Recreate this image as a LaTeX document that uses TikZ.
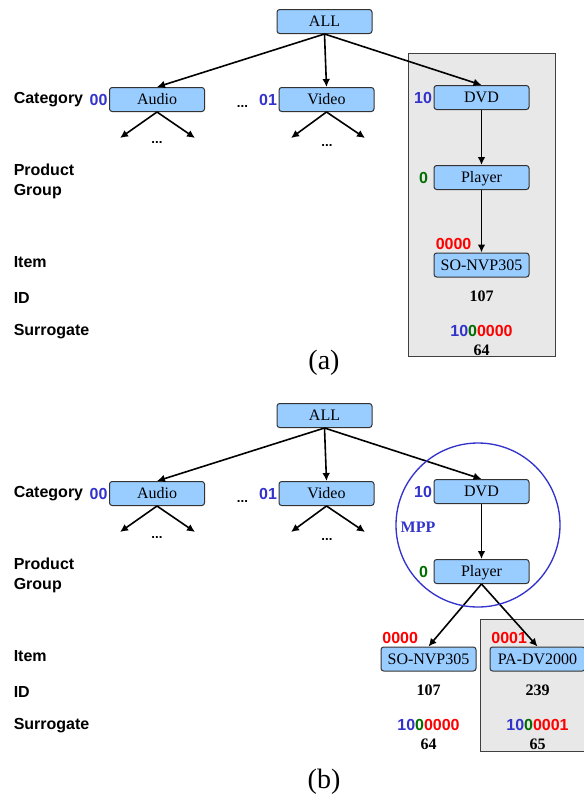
\documentclass[tikz,border=0pt]{standalone}
\usepackage{fontspec}
\setmainfont{Liberation Serif}
\setsansfont{Liberation Sans}
\usetikzlibrary{positioning, arrows.meta}
\definecolor{boxblue}{RGB}{153,204,255}
\definecolor{codeblue}{RGB}{51,51,204}
\definecolor{codegreen}{RGB}{0,110,0}
\definecolor{codered}{RGB}{255,0,0}
\tikzset{
  cat/.style={draw=black!80, fill=boxblue, line width=0.75pt, rounded corners=2pt, minimum width=71.25pt, minimum height=18pt, inner sep=0pt, text height=7.9pt, text depth=0pt, font=\fontsize{12}{14}\selectfont},
  lvl/.style={anchor=base west, inner sep=0pt, align=left, font=\sffamily\bfseries\fontsize{12}{15}\selectfont},
  code/.style={inner sep=0pt, font=\sffamily\bfseries\fontsize{12}{14}\selectfont},
  num/.style={inner sep=0pt, font=\bfseries\fontsize{12}{14}\selectfont},
  etc/.style={inner sep=0pt, font=\sffamily\bfseries\fontsize{10}{12}\selectfont},
  panel/.style={draw=black!75, fill=black!9, line width=0.75pt},
  caption/.style={inner sep=0pt, font=\fontsize{21}{24}\selectfont}
}

\begin{document}
\begin{tikzpicture}[x=0.75pt, y=-0.75pt, >={Latex[length=6pt,width=5.8pt]}, line width=1.2pt]
\useasboundingbox (0,0) rectangle (584,801);
\clip (0,0) rectangle (584,801);
\draw[panel] (408,53) rectangle (555,356);
\draw[panel] (480,619) rectangle (600,751);

\node[lvl] (cata) at (13,103.5) {Category};
\node[lvl, anchor=west] (groupa) at (13,181.5) {Product\\Group};
\node[lvl] (itema) at (13,267.5) {Item};
\node[lvl] (idlbla) at (13,303.5) {ID};
\node[lvl] (surlbla) at (13,335.5) {Surrogate};

\node[cat] (all) at (324.5,21.5) {ALL};
\node[cat] (audio) at (157,99.5) {Audio};
\node[cat] (video) at (326.5,99.5) {Video};
\node[cat] (dvd) at (481.5,97.5) {DVD};
\node[cat] (player) at (481.5,177.5) {Player};
\node[cat] (so) at (481.5,265) {SO-NVP305};
\node[code, text=codeblue, left=0.5pt of audio] (caudio) {00};
\node[code, text=codeblue, left=0.5pt of video] (cvideo) {01};
\node[code, text=codeblue, left=0.5pt of dvd] (cdvd) {10};
\node[code, text=codegreen, left=3.5pt of player] (cplayer) {0};
\node[code, text=codered, above=1.2pt of so.north west, anchor=south west, xshift=1.1pt] (cso) {0000};
\node[num, below=9.75pt of so] (idso) {107};
\node[code, below=16.5pt of idso] (surso) {\textcolor{codeblue}{10}\textcolor{codegreen}{0}\textcolor{codered}{0000}};
\node[num, below=4.5pt of surso] (intso) {64};

\coordinate (audl) at (120,138);
\coordinate (audr) at (195,138);
\coordinate (vidl) at (291,138);
\coordinate (vidr) at (365,138);
\node[etc] (auddots) at (157,143) {...};
\node[etc] (viddots) at (327,145.5) {...};
\node[etc] (middots) at (242.5,107) {...};

\draw[->] (all.south) -- (audio.north);
\draw[->] (all.south) -- (video.north);
\draw[->] (all.south) -- (dvd.north);
\draw[->] (dvd) -- (player);
\draw[->] (player) -- (so);
\draw[->] (audio.south) -- (audl);
\draw[->] (audio.south) -- (audr);
\draw[->] (video.south) -- (vidl);
\draw[->] (video.south) -- (vidr);
\node[caption] (capa) at (324,363) {(a)};

\node[lvl] (catb) at (13,497.5) {Category};
\node[lvl, anchor=west] (groupb) at (13,575.5) {Product\\Group};
\node[lvl] (itemb) at (13,661.5) {Item};
\node[lvl] (idlblb) at (13,697.5) {ID};
\node[lvl] (surlblb) at (13,729.5) {Surrogate};

\node[cat] (allb) at (324.5,415.5) {ALL};
\node[cat] (audiob) at (157,493.5) {Audio};
\node[cat] (videob) at (326.5,493.5) {Video};
\node[cat] (dvdb) at (481.5,491.5) {DVD};
\node[cat] (playerb) at (481.5,571.5) {Player};
\node[cat] (sob) at (428.5,659) {SO-NVP305};
\node[cat] (pab) at (537.5,659) {PA-DV2000};
\node[code, text=codeblue, left=0.5pt of audiob] (caudiob) {00};
\node[code, text=codeblue, left=0.5pt of videob] (cvideob) {01};
\node[code, text=codeblue, left=0.5pt of dvdb] (cdvdb) {10};
\node[code, text=codegreen, left=3.5pt of playerb] (cplayerb) {0};
\node[code, text=codered, above=1.2pt of sob.north west, anchor=south west, xshift=0.8pt] (csob) {0000};
\node[code, text=codered, above=1.2pt of pab.north west, anchor=south west, xshift=0.8pt] (cpab) {0001};
\node[num, below=9.75pt of sob] (idsob) {107};
\node[num, below=9.75pt of pab] (idpab) {239};
\node[code, below=16.5pt of idsob] (sursob) {\textcolor{codeblue}{10}\textcolor{codegreen}{0}\textcolor{codered}{0000}};
\node[code, below=16.5pt of idpab] (surpab) {\textcolor{codeblue}{10}\textcolor{codegreen}{0}\textcolor{codered}{0001}};
\node[num, below=4.5pt of sursob] (intsob) {64};
\node[num, below=4.5pt of surpab] (intpab) {65};

\coordinate (audlb) at (120,532);
\coordinate (audrb) at (195,532);
\coordinate (vidlb) at (291,532);
\coordinate (vidrb) at (365,532);
\node[etc] (auddotsb) at (157,537) {...};
\node[etc] (viddotsb) at (327,539.5) {...};
\node[etc] (middotsb) at (242.5,501) {...};

\draw[->] (allb.south) -- (audiob.north);
\draw[->] (allb.south) -- (videob.north);
\draw[->] (allb.south) -- (dvdb.north);
\draw[->] (dvdb) -- (playerb);
\draw[->] (playerb.south) -- (sob.north);
\draw[->] (playerb.south) -- (pab.north);
\draw[->] (audiob.south) -- (audlb);
\draw[->] (audiob.south) -- (audrb);
\draw[->] (videob.south) -- (vidlb);
\draw[->] (videob.south) -- (vidrb);
\node[draw=codeblue, line width=1pt, circle, minimum size=123pt, inner sep=0pt] (mpp) at (478,525) {};
\node[num, text=codeblue] (mpplbl) at (418,527) {MPP};
\node[caption] (capb) at (324,782) {(b)};
\end{tikzpicture}
\end{document}
